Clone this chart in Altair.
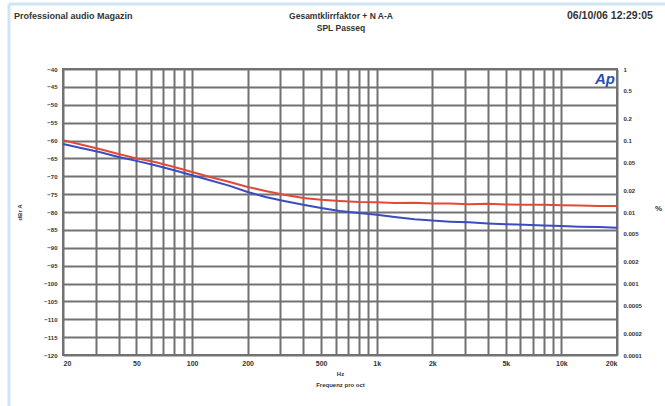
import altair as alt
import pandas as pd

# ---- data ----
freqs = [20, 25, 31.5, 40, 50, 63, 80, 100, 125, 160, 200, 250, 315, 400, 500, 630,
         800, 1000, 1250, 1600, 2000, 2500, 3150, 4000, 5000, 6300, 8000, 10000,
         12500, 16000, 20000]
red_db = [-59.9, -61.1, -62.4, -63.8, -65.0, -66.0, -67.4, -68.8, -70.2, -71.6, -73.0,
          -74.1, -75.2, -76.1, -76.6, -76.9, -77.2, -77.3, -77.5, -77.4, -77.6, -77.6,
          -77.8, -77.7, -77.9, -78.0, -78.0, -78.1, -78.2, -78.3, -78.3]
blue_db = [-61.0, -62.1, -63.2, -64.6, -65.7, -66.9, -68.3, -69.7, -71.1, -72.7, -74.4,
           -75.8, -76.9, -78.0, -78.9, -79.7, -80.3, -80.8, -81.4, -82.0, -82.4, -82.7,
           -82.9, -83.2, -83.4, -83.6, -83.8, -83.9, -84.1, -84.2, -84.4]

x_grid = [20, 30, 40, 50, 60, 70, 80, 90, 100, 200, 300, 400, 500, 600, 700, 800, 900,
          1000, 2000, 3000, 4000, 5000, 6000, 7000, 8000, 9000, 10000, 20000]
x_labels = [20, 50, 100, 200, 500, 1000, 2000, 5000, 10000, 20000]
y_left_ticks = [-40, -45, -50, -55, -60, -65, -70, -75, -80, -85, -90, -95, -100,
                -105, -110, -115, -120]
y_right_ticks = [1, 0.5, 0.2, 0.1, 0.05, 0.02, 0.01, 0.005, 0.002, 0.001, 0.0005,
                 0.0002, 0.0001]

header_left = "Professional audio Magazin"
header_center = ["Gesamtklirrfaktor + N A-A", "SPL Passeq"]
header_right = "06/10/06 12:29:05"

rows = []
for f, r, b in zip(freqs, red_db, blue_db):
    rows.append({"f": f, "db": r, "ch": "red"})
    rows.append({"f": f, "db": b, "ch": "blue"})
df = pd.DataFrame(rows)

W, H = 554, 286
FONT = "Liberation Sans"
GRID = "#727272"

label_list = "[" + ",".join(str(v) for v in x_labels) + "]"
x_enc = alt.X(
    "f:Q",
    scale=alt.Scale(type="log", domain=[20, 20000], nice=False),
    axis=alt.Axis(
        values=x_grid,
        labelExpr=f"indexof({label_list}, datum.value) >= 0 ? (datum.value >= 1000 ? (datum.value/1000) + 'k' : '' + datum.value) : ''",
        grid=True, gridColor=GRID, gridWidth=2, gridOpacity=1,
        ticks=False, domain=False, labelPadding=4, labelFontSize=7,
        labelColor="#333", labelFont=FONT, labelFontWeight="bold",
        title=["Hz", "Frequenz pro oct"], titleFontSize=6, titleFont=FONT,
        titleColor="#333", titleFontWeight="bold", titlePadding=4, titleLineHeight=11,
    ),
)

lines = alt.Chart(df).mark_line(strokeWidth=2, clip=True).encode(
    x=x_enc,
    y=alt.Y(
        "db:Q",
        scale=alt.Scale(domain=[-120, -40], nice=False, zero=False),
        axis=alt.Axis(
            values=y_left_ticks, grid=True, gridColor=GRID, gridWidth=2, gridOpacity=1,
            ticks=False, domain=False, labelPadding=6, labelFontSize=6,
            labelColor="#333", labelFont=FONT, labelFontWeight="bold",
            title="dBr A", titleFontSize=6, titleFont=FONT, titleColor="#333",
            titleX=-41, titleY=143, titleFontWeight="bold",
        ),
    ),
    color=alt.Color("ch:N", scale=alt.Scale(domain=["red", "blue"],
                                             range=["#e04a36", "#3b4cc0"]), legend=None),
    order=alt.Order("f:Q"),
)

right = alt.Chart(df).transform_calculate(
    pct="pow(10, datum.db / 20) * 100"
).mark_line(opacity=0).encode(
    x=alt.X("f:Q", scale=alt.Scale(type="log", domain=[20, 20000], nice=False)),
    y=alt.Y(
        "pct:Q",
        scale=alt.Scale(type="log", domain=[0.0001, 1], nice=False),
        axis=alt.Axis(
            orient="right", values=y_right_ticks, labelExpr="'' + datum.value",
            grid=False, ticks=False, domain=False, labelPadding=6, labelFontSize=6,
            labelColor="#333", labelFont=FONT, labelFontWeight="bold",
            title="%", titleAngle=0, titleX=41, titleY=143, titleFontSize=8,
            titleFont=FONT, titleColor="#333", titleFontWeight="bold",
        ),
    ),
    detail="ch:N",
)

hdr = pd.DataFrame({"t": [0]})
def txt(text, x, y, size=9, align="left", color="#333", weight="bold", style="normal"):
    return alt.Chart(hdr).mark_text(
        text=text, align=align, baseline="middle", fontSize=size, font=FONT,
        fontWeight=weight, color=color, fontStyle=style, lineHeight=12,
    ).encode(x=alt.value(x), y=alt.value(y))

headers = (
    txt(header_left, 14 - 63, 16 - 69)
    + txt(header_center[0], 341 - 63, 16 - 69, align="center", size=8.5)
    + txt(header_center[1], 341 - 63, 28 - 69, align="center", size=8.5)
    + txt(header_right, 567 - 63, 16 - 69, size=10.5)
    + txt("Ap", 605 - 63, 79 - 69, size=15, align="center", color="#2b4db5",
          weight="bold", style="italic")
)

frame = alt.Chart(hdr).mark_rule(color="#cfe4f4", strokeWidth=3).encode(
    x=alt.value(9 - 63), x2=alt.value(700), y=alt.value(4 - 69)
) + alt.Chart(hdr).mark_rule(color="#cfe4f4", strokeWidth=3).encode(
    x=alt.value(9 - 63), y=alt.value(4 - 69), y2=alt.value(420)
)

chart = alt.layer(lines, right, headers, frame).resolve_scale(
    y="independent"
).properties(
    width=W, height=H,
    autosize=alt.AutoSizeParams(type="none"),
    padding={"left": 63, "top": 69, "right": 48, "bottom": 51},
    background="white",
).configure_view(stroke=GRID, strokeWidth=2)

chart.save("out.html", embed_options={"renderer": "svg", "actions": False})
